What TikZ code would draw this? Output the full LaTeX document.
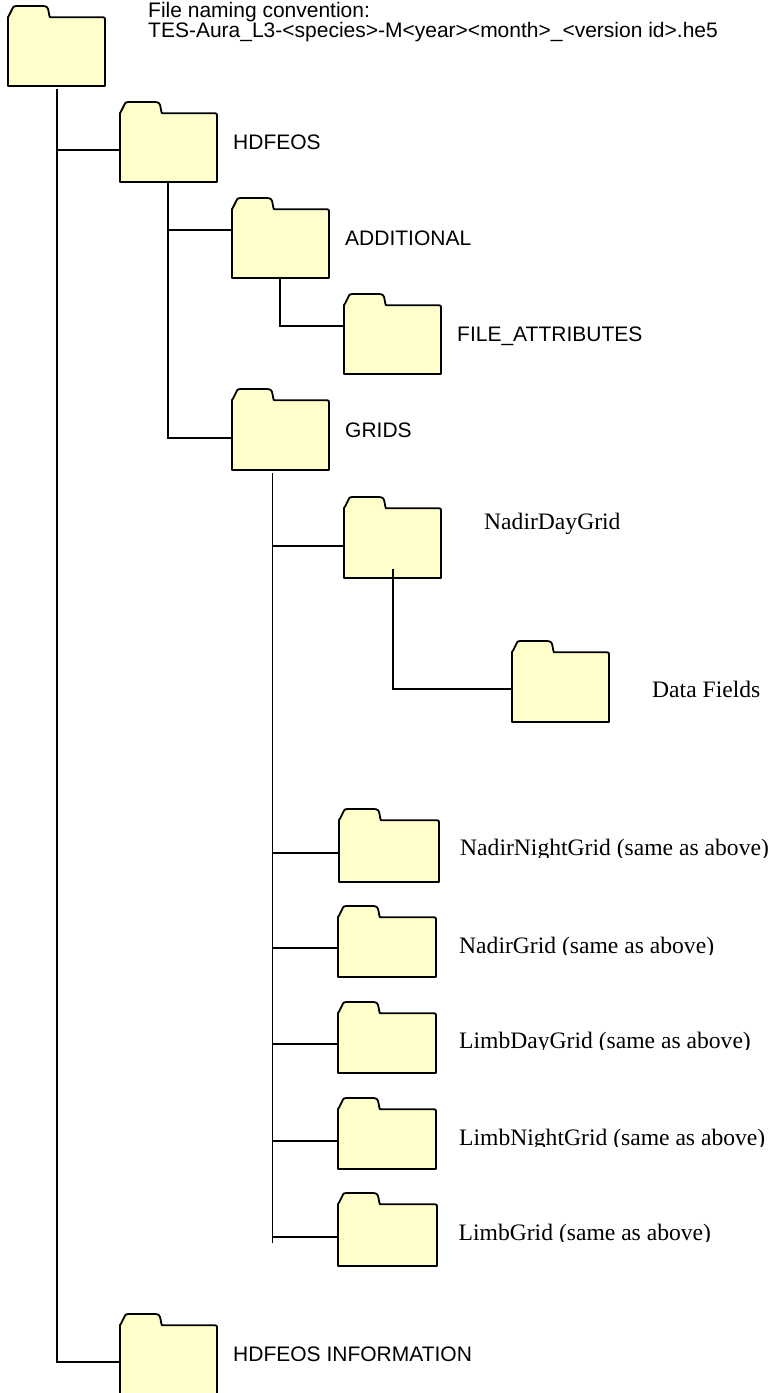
\documentclass[tikz,border=0pt]{standalone}
\usepackage{fontspec}
\setmainfont{Liberation Serif}
\newfontfamily\arialf{Liberation Sans}
\definecolor{folderfill}{HTML}{FFFFCC}
\tikzset{
  fline/.style={draw=black, fill=folderfill, line width=1.8pt, line join=round},
  conn/.style={draw=black, line width=1.5pt},
  fbox/.style={anchor=north west, inner sep=0pt, outer sep=0pt, rectangle, draw=none},
  sanslab/.style={anchor=base west, inner sep=0pt, font=\arialf\fontsize{21}{20}\selectfont},
  seriflab/.style={anchor=base west, inner sep=0pt, font=\fontsize{23.6}{26}\selectfont},
  pics/foldershape/.style 2 args={code={
    \filldraw[fline] (0,#2) -- (0,11) -- (1,9.5) -- (4.5,2.5)
      .. controls (5.5,0.4) .. (8,0) -- (35,0)
      .. controls (38.5,0) and (40,1.5) .. (40.5,5) -- (41.3,9.3)
      .. controls (41.6,11.3) .. (43.5,11.3) -- ({#1-3.5},11.3)
      .. controls (#1,11.3) .. (#1,14.8) -- (#1,#2) -- cycle;
  }}
}
\newcommand{\mkfolder}[5]{%
  \node[fbox, minimum width=#4pt, minimum height=#5pt] (#1) at (#2,#3) {};
  \pic at (#1.north west) {foldershape={#4}{#5}};
}
\begin{document}
\begin{tikzpicture}[x=1pt, y=-1pt]
\useasboundingbox[fill=white] (0,0) rectangle (774,1393);

% folders
\mkfolder{root}{8}{6}{97}{80}
\mkfolder{hdfeos}{120}{102}{97}{80}
\mkfolder{additional}{232}{198}{97}{80}
\mkfolder{fileattr}{344}{294}{97}{80}
\mkfolder{grids}{232}{389}{97}{81}
\mkfolder{nadirday}{344}{497}{97}{81}
\mkfolder{datafields}{512}{641}{97}{81}
\mkfolder{nadirnight}{339}{809}{100}{73}
\mkfolder{nadirgrid}{338}{906}{98}{71}
\mkfolder{limbday}{338}{1002}{98}{71}
\mkfolder{limbnight}{338}{1098}{98}{71}
\mkfolder{limbgrid}{338}{1193}{99}{73}
\mkfolder{hinfo}{120}{1314}{97}{80}

% connection points on the folders' left sides
\coordinate (hdfeos-in) at ([yshift=-48pt]hdfeos.north west);
\coordinate (additional-in) at ([yshift=-32pt]additional.north west);
\coordinate (fileattr-in) at ([yshift=-32pt]fileattr.north west);
\coordinate (grids-in) at ([yshift=-49pt]grids.north west);
\coordinate (nadirday-in) at ([yshift=-49pt]nadirday.north west);
\coordinate (datafields-in) at ([yshift=-48pt]datafields.north west);
\coordinate (nadirnight-in) at ([yshift=-44pt]nadirnight.north west);
\coordinate (nadirgrid-in) at ([yshift=-42pt]nadirgrid.north west);
\coordinate (limbday-in) at ([yshift=-42pt]limbday.north west);
\coordinate (limbnight-in) at ([yshift=-43pt]limbnight.north west);
\coordinate (limbgrid-in) at ([yshift=-44pt]limbgrid.north west);
\coordinate (hinfo-in) at ([yshift=-48pt]hinfo.north west);

% trunk starts
\coordinate (root-tr) at ([xshift=49pt,yshift=-3pt]root.south west);
\coordinate (hdfeos-tr) at ([xshift=48pt]hdfeos.south west);
\coordinate (additional-tr) at ([xshift=48pt]additional.south west);
\coordinate (grids-tr) at ([xshift=40.5pt,yshift=-3pt]grids.south west);
\coordinate (nadirday-tr) at ([xshift=49pt,yshift=9pt]nadirday.south west);
\path (grids-tr |- limbgrid-in) ++(0,6) coordinate (grids-end);

% connectors
\draw[conn] (root-tr) |- (hinfo-in);
\draw[conn] (root-tr |- hdfeos-in) -- (hdfeos-in);
\draw[conn] (hdfeos-tr) |- (grids-in);
\draw[conn] (hdfeos-tr |- additional-in) -- (additional-in);
\draw[conn] (additional-tr) |- (fileattr-in);
\draw[conn] (grids-tr) -- (grids-end);
\foreach \c in {nadirday,nadirnight,nadirgrid,limbday,limbnight,limbgrid}
  \draw[conn] (grids-tr |- \c-in) -- (\c-in);
\draw[conn] (nadirday-tr) |- (datafields-in);

% labels
\node[sanslab] (l-fnc1) at (148,17.3) {File naming convention:};
\node[sanslab] (l-fnc2) at (148,37.3) {TES-Aura\_L3-<species>-M<year><month>\_<version id>.he5};
\node[sanslab] (l-hdfeos) at (233,149.5) {HDFEOS};
\node[sanslab] (l-add) at (345,245) {ADDITIONAL};
\node[sanslab] (l-fa) at (457,341) {FILE\_ATTRIBUTES};
\node[sanslab] (l-grids) at (345,437) {GRIDS};
\node[seriflab] (l-nd) at (484,529) {NadirDayGrid};
\node[seriflab] (l-df) at (652,697) {Data Fields};
\begin{scope}
  \clip (445,820) rectangle (774,857);
  \node[seriflab] (l-nn) at (460,855.5) {NadirNightGrid (same as above)};
\end{scope}
\begin{scope}
  \clip (445,920) rectangle (774,954.3);
  \node[seriflab] (l-ng) at (459,953.3) {NadirGrid (same as above)};
\end{scope}
\begin{scope}
  \clip (445,1015) rectangle (774,1049.3);
  \node[seriflab] (l-ld) at (459,1048.3) {LimbDayGrid (same as above)};
\end{scope}
\begin{scope}
  \clip (445,1110) rectangle (774,1146);
  \node[seriflab] (l-ln) at (459,1145) {LimbNightGrid (same as above)};
\end{scope}
\begin{scope}
  \clip (445,1205) rectangle (774,1241.7);
  \node[seriflab] (l-lg) at (458.5,1240.7) {LimbGrid (same as above)};
\end{scope}
\node[sanslab] (l-hinfo) at (233,1361) {HDFEOS INFORMATION};
\end{tikzpicture}
\end{document}
